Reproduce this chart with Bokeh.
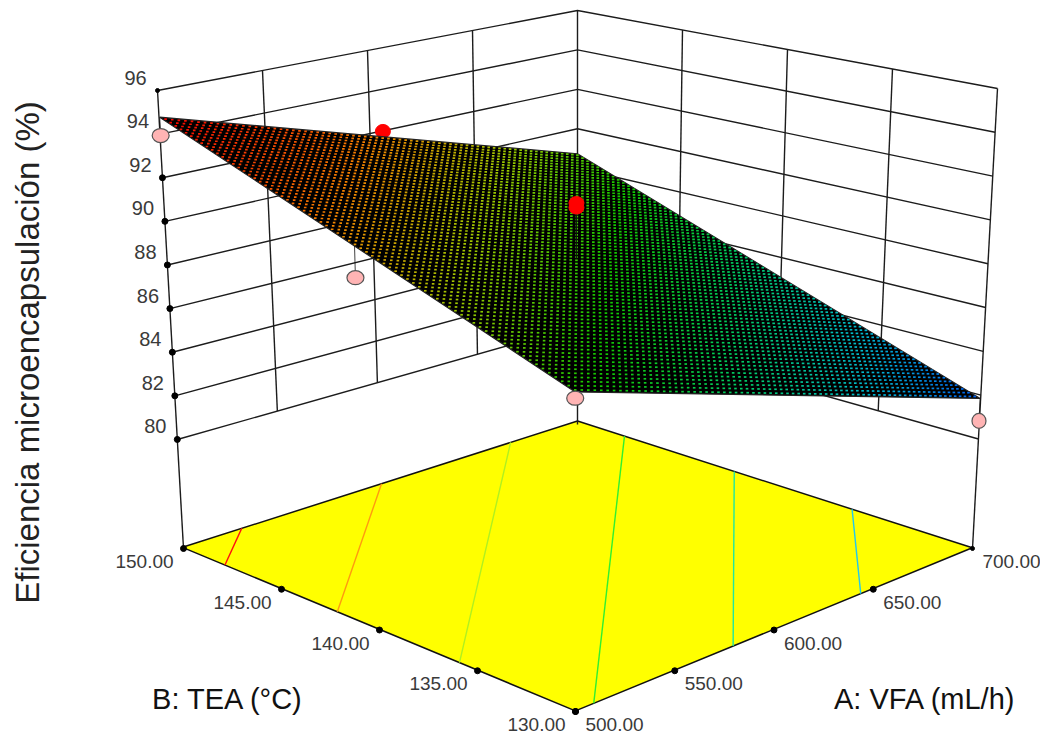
import numpy as np
from bokeh.plotting import figure
from bokeh.models import Range1d
from bokeh.core.properties import value
from bokeh.embed import file_html
from bokeh.resources import INLINE

# ---- data ----
a_ticks = [500, 550, 600, 650, 700]
b_ticks = [130, 135, 140, 145, 150]
z_ticks = [80, 82, 84, 86, 88, 90, 92, 94, 96]
z_floor = 75.0
# response surface corners
surf_a = [500, 700, 500, 700]
surf_b = [130, 130, 150, 150]
surf_z = [88.25, 82.1, 94.8, 88.9]
# design points (A, B, response)
pink_a = [500, 700, 500, 500]
pink_b = [150, 130, 140, 130]
pink_z = [94.0, 81.05, 90.2, 88.0]
pink_w = [17, 14, 17, 17]
pink_h = [14, 15, 14, 14]
red_back_a = [600]
red_back_b = [150]
red_back_z = [92.1]
red_a = [600, 600]
red_b = [140, 140]
red_z = [91.0, 90.8]
# contour levels on floor
levels = [84, 86, 88, 90, 92, 94]
level_colors = ["#20c8f0", "#20e8a0", "#30f030", "#b0f020", "#ff9a10", "#ff1010"]
# colour map of the surface
cm_z = [82.0, 84.0, 86.0, 88.0, 90.0, 92.0, 94.8]
cm_rgb = [(0, 90, 245), (0, 185, 205), (0, 205, 100), (20, 200, 0), (160, 200, 0), (245, 130, 0), (245, 0, 0)]
mesh_n = 72

# ---- camera calibrated on the box corners (page pixels) ----
cal_world = [(0, 0, 75), (1, 0, 75), (0, 1, 75), (1, 1, 75), (0, 1, 96), (1, 0, 96), (1, 1, 96), (0, 1, 80), (1, 0, 80), (1, 1, 80)]
cal_page = [(575, 711), (972, 548), (183, 548), (577, 424), (157, 90), (997, 88), (577, 10), (176, 440), (976, 441), (577, 323)]


def nu(a):
    return (np.asarray(a, float) - 500.0) / 200.0


def nv(b):
    return (np.asarray(b, float) - 130.0) / 20.0


def nw(z):
    return (np.asarray(z, float) - 75.0) / 21.0


rows = []
for (u, v, z), (x, y) in zip(cal_world, cal_page):
    w = (z - 75.0) / 21.0
    rows.append([u, v, w, 1, 0, 0, 0, 0, -x * u, -x * v, -x * w, -x])
    rows.append([0, 0, 0, 0, u, v, w, 1, -y * u, -y * v, -y * w, -y])
P = np.linalg.svd(np.array(rows, float))[2][-1].reshape(3, 4)


def proj(u, v, z):
    u, v, z = np.broadcast_arrays(np.asarray(u, float), np.asarray(v, float), nw(z))
    h = P[2, 0] * u + P[2, 1] * v + P[2, 2] * z + P[2, 3]
    x = (P[0, 0] * u + P[0, 1] * v + P[0, 2] * z + P[0, 3]) / h
    y = (P[1, 0] * u + P[1, 1] * v + P[1, 2] * z + P[1, 3]) / h
    return x, y


# The box itself (walls, ticks) is evenly divided on the page: linear between its corners.
box_bottom = {c: np.array(q, float) for c, q in zip(cal_world[:4], cal_page[:4])}
box_top = {(0, 1): np.array(cal_page[4], float), (1, 0): np.array(cal_page[5], float), (1, 1): np.array(cal_page[6], float)}


def col(u, v):
    if v == 1:
        b = box_bottom[(0, 1, 75)] * (1 - u) + box_bottom[(1, 1, 75)] * u
        t = box_top[(0, 1)] * (1 - u) + box_top[(1, 1)] * u
    else:
        b = box_bottom[(1, 0, 75)] * (1 - v) + box_bottom[(1, 1, 75)] * v
        t = box_top[(1, 0)] * (1 - v) + box_top[(1, 1)] * v
    return b, t


def wall(u, v, z):
    b, t = col(u, v)
    w = float(nw(z))
    return b + (t - b) * w


def floor_a(a):
    t = float(nu(a))
    return box_bottom[(0, 0, 75)] * (1 - t) + box_bottom[(1, 0, 75)] * t


def floor_b(bv):
    t = float(nv(bv))
    return box_bottom[(0, 0, 75)] * (1 - t) + box_bottom[(0, 1, 75)] * t


z00, z10, z01, z11 = surf_z


def surf(u, v):
    return z00 * (1 - u) * (1 - v) + z10 * u * (1 - v) + z01 * (1 - u) * v + z11 * u * v


def cmap(z):
    r = np.interp(z, cm_z, [c[0] for c in cm_rgb])
    g = np.interp(z, cm_z, [c[1] for c in cm_rgb])
    b = np.interp(z, cm_z, [c[2] for c in cm_rgb])
    return "#%02x%02x%02x" % (int(r), int(g), int(b))


p = figure(width=1040, height=738, x_range=Range1d(0, 1040), y_range=Range1d(738, 0),
           output_backend="svg", toolbar_location=None, min_border=0)
p.axis.visible = False
p.grid.visible = False
p.outline_line_color = None
p.background_fill_color = "white"

LINE = "#1c1c1c"
# floor
fx, fy = proj([0, 1, 1, 0], [0, 0, 1, 1], z_floor)
p.patch(list(fx), list(fy), fill_color="#ffff00", line_color="#111111", line_width=1.5)

# contours on the floor
for lev, c in zip(levels, level_colors):
    pts = []
    for (ua, va, ub, vb) in [(0, 0, 1, 0), (1, 0, 1, 1), (1, 1, 0, 1), (0, 1, 0, 0)]:
        za, zb = surf(ua, va), surf(ub, vb)
        if (za - lev) * (zb - lev) < 0:
            t = (lev - za) / (zb - za)
            pts.append((ua + t * (ub - ua), va + t * (vb - va)))
    if len(pts) == 2:
        cx, cy = proj([pts[0][0], pts[1][0]], [pts[0][1], pts[1][1]], z_floor)
        p.line(list(cx), list(cy), line_color=c, line_width=1.4)

# walls
xs, ys = [], []
for z in z_ticks:
    q = [wall(0, 1, z), wall(1, 1, z), wall(1, 0, z)]
    xs.append([k[0] for k in q]); ys.append([k[1] for k in q])
for t in [0.25, 0.5, 0.75]:
    for (u, v) in [(t, 1), (1, t)]:
        q = [wall(u, v, 80), wall(u, v, 96)]
        xs.append([k[0] for k in q]); ys.append([k[1] for k in q])
for (u, v) in [(0, 1), (1, 1), (1, 0)]:
    q = [wall(u, v, z_floor), wall(u, v, 96)]
    xs.append([k[0] for k in q]); ys.append([k[1] for k in q])
p.multi_line(xs, ys, line_color=LINE, line_width=1.4)

# tick dots
zq = np.array([wall(0, 1, z) for z in z_ticks])
p.scatter(zq[:-1, 0], zq[:-1, 1], size=6, color="black")
p.scatter(zq[-1:, 0], zq[-1:, 1], size=4, color="black")
aq = np.array([floor_a(t) for t in a_ticks])
bq = np.array([floor_b(t) for t in b_ticks])
p.scatter(aq[:-1, 0], aq[:-1, 1], size=6, color="black")
p.scatter(aq[-1:, 0], aq[-1:, 1], size=4, color="black")
p.scatter(bq[:, 0], bq[:, 1], size=6, color="black")

# design point hidden partly by the surface
x, y = proj(nu(red_back_a), nv(red_back_b), red_back_z)
p.ellipse(x, y, width=15, height=14, fill_color="#ff0000", line_color="#ff0000")

# surface: black sheet with one small coloured dot in each mesh cell
sx, sy = proj([0, 1, 1, 0], [0, 0, 1, 1], [surf(0, 0), surf(1, 0), surf(1, 1), surf(0, 1)])
p.patch(list(sx), list(sy), fill_color="black", line_color="#222222", line_width=1.2)
centers = (np.arange(mesh_n) + .5) / mesh_n
uu, vv = np.meshgrid(centers, centers)
uu, vv = uu.ravel(), vv.ravel()
zz = surf(uu, vv)
mx, my = proj(uu, vv, zz)
p.rect(mx, my, width=2.6, height=1.7, fill_color=[cmap(z) for z in zz], line_color=None)

# stems and design points
for aa, bb, zv in list(zip(pink_a, pink_b, pink_z)) + list(zip(red_a, red_b, red_z)):
    u, v = float(nu(aa)), float(nv(bb))
    x, y = proj(u, v, [surf(u, v), zv])
    p.line(list(x), list(y), line_color="#111111", line_width=0.8)
x, y = proj(nu(pink_a), nv(pink_b), pink_z)
p.ellipse(x, y, width=pink_w, height=pink_h, fill_color="#ffb4b4", line_color="#555555", line_width=1.2)
x, y = proj(nu(red_a), nv(red_b), red_z)
p.ellipse(x, y, width=15, height=13, fill_color="#ff0000", line_color="#ff0000")

# texts
TICK = "#3a3a3a"
SANS = value("Liberation Sans")
p.text(zq[:, 0] - 22, zq[:, 1] - 13, text=[str(z) for z in z_ticks], text_font=SANS, text_font_size="20px",
       text_color=TICK, text_align="center", text_baseline="middle")
p.text(aq[:, 0] + 39, aq[:, 1] + 13, text=["%.2f" % t for t in a_ticks], text_font=SANS, text_font_size="19px",
       text_color=TICK, text_align="center", text_baseline="middle")
p.text(bq[:, 0] - 39, bq[:, 1] + 13, text=["%.2f" % t for t in b_ticks], text_font=SANS, text_font_size="19px",
       text_color=TICK, text_align="center", text_baseline="middle")
p.text([227.5], [698], text=["B: TEA (°C)"], text_font=SANS, text_font_size="29px",
       text_color="#111111", text_align="center", text_baseline="middle")
p.text([924.5], [698], text=["A: VFA (mL/h)"], text_font=SANS, text_font_size="29px",
       text_color="#111111", text_align="center", text_baseline="middle")
p.text([27], [352], text=["Eficiencia microencapsulación (%)"], text_font=SANS,
       text_font_size="33px", text_color="#222222", angle=np.pi / 2, text_align="center", text_baseline="middle")

open("out.html", "w").write(file_html(p, INLINE))
